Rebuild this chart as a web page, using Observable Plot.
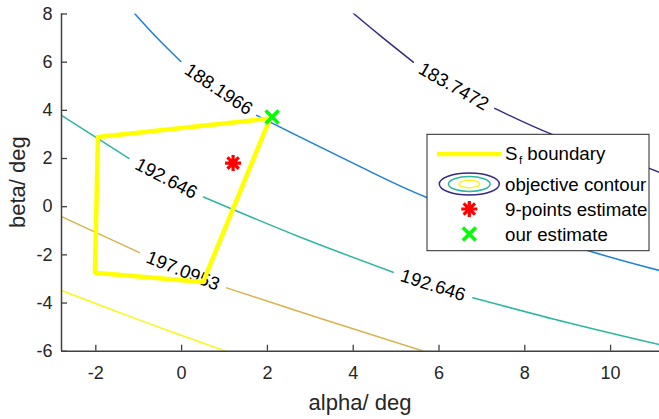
<!DOCTYPE html>
<html><head><meta charset="utf-8">
<script src="https://cdn.jsdelivr.net/npm/d3@7"></script>
<script src="https://cdn.jsdelivr.net/npm/@observablehq/plot@0.6"></script>
<style>body{margin:0;background:#fff}</style>
</head><body><div id="chart"></div>
<script>
// ---- data ----
const xDomain = [-2.8, 11.14];
const yDomain = [-6, 8];
const xTicks = [-2, 0, 2, 4, 6, 8, 10];
const yTicks = [-6, -4, -2, 0, 2, 4, 6, 8];
const xLabel = "alpha/ deg";
const yLabel = "beta/ deg";

// contour lines: [segment, alpha, beta]
const contour183 = [
  [0, 4.00, 8.03], [0, 4.70, 7.00], [0, 5.40, 6.00],
  [1, 7.30, 4.08], [1, 8.65, 2.99], [1, 10.93, 1.57], [1, 11.14, 1.42]
];
const contour188 = [
  [0, -1.09, 8.01], [0, -0.57, 7.00], [0, -0.02, 6.03],
  [1, 1.75, 3.79], [1, 3.71, 2.06], [1, 5.73, 0.37], [1, 9.46, -1.82], [1, 11.14, -2.65]
];
const contour192 = [
  [0, -2.80, 3.79], [0, -1.23, 2.01],
  [1, 0.51, 0.40], [1, 2.77, -1.27], [1, 4.93, -2.72],
  [2, 6.79, -3.78], [2, 8.99, -4.81], [2, 11.14, -5.73]
];
const contour197 = [
  [0, -2.80, -0.41], [0, -0.98, -1.91],
  [1, 1.05, -3.37], [1, 3.24, -4.64], [1, 5.64, -6.00]
];
const contourLow = [
  [0, -2.80, -3.48], [0, -0.96, -4.72], [0, 1.03, -6.00]
];
const contourColors = ["#352a87", "#1a80db", "#2db7a0", "#d8b24c", "#f7f71a"];

const contourLabelText = ["183.7472", "188.1966", "192.646", "192.646", "197.0953"];
const contourLabelX = [6.34, 0.86, -0.36, 5.86, 0.03];
const contourLabelY = [4.99, 4.87, 1.17, -3.27, -2.67];
const contourLabelAngle = [29.7, 34, 27.7, 17.8, 21.9];

const boundaryAlpha = [-1.95, 2.06, 0.50, -2.02, -1.95];
const boundaryBeta = [2.89, 3.66, -3.13, -2.74, 2.89];

const ninePoints = [{alpha: 1.20, beta: 1.81}];
const ourEstimate = [{alpha: 2.11, beta: 3.72}];

const legendLabels = ["boundary", "objective contour", "9-points estimate", "our estimate"];

// ---- build ----
const toRows = (arr) => arr.map(([seg, a, b]) => ({seg, alpha: a, beta: b}));
const contours = [contour183, contour188, contour192, contour197, contourLow].map(toRows);
const labels = contourLabelText.map((t, i) => ({text: t, alpha: contourLabelX[i], beta: contourLabelY[i], angle: contourLabelAngle[i]}));
const boundary = boundaryAlpha.map((a, i) => ({alpha: a, beta: boundaryBeta[i]}));

const asterisk = {draw(ctx, size) {
  const r = Math.sqrt(size / Math.PI), d = r * Math.SQRT1_2;
  ctx.moveTo(-r, 0); ctx.lineTo(r, 0);
  ctx.moveTo(0, -r); ctx.lineTo(0, r);
  ctx.moveTo(-d, -d); ctx.lineTo(d, d);
  ctx.moveTo(d, -d); ctx.lineTo(-d, d);
}};
const times = {draw(ctx, size) {
  const r = Math.sqrt(size / Math.PI);
  ctx.moveTo(-r, -r); ctx.lineTo(r, r);
  ctx.moveTo(r, -r); ctx.lineTo(-r, r);
}};

const FONT = "'Liberation Sans', Arial, Helvetica, sans-serif";
const W = 659, H = 419, mL = 61, mR = 0, mT = 13.5, mB = 68.3;
const fmt = (d) => String(d);

const plot = Plot.plot({
  width: W, height: H,
  marginLeft: mL, marginRight: mR, marginTop: mT, marginBottom: mB,
  x: {domain: xDomain},
  y: {domain: yDomain},
  style: {fontFamily: FONT, fontSize: "18px", color: "#262626", background: "white", overflow: "visible"},
  marks: [
    ...contours.map((rows, i) => Plot.line(rows, {x: "alpha", y: "beta", z: "seg", stroke: contourColors[i], strokeWidth: 1.5, curve: "catmull-rom", clip: true})),
    Plot.text(labels, {x: "alpha", y: "beta", text: "text", rotate: "angle", fontSize: 18.5, fill: "#000", fontFamily: FONT}),
    Plot.line(boundary, {x: "alpha", y: "beta", stroke: "#ffff00", strokeWidth: 4.5, strokeLinejoin: "miter"}),
    Plot.dot(ninePoints, {x: "alpha", y: "beta", symbol: asterisk, r: 8, stroke: "#ff0000", strokeWidth: 3.2}),
    Plot.dot(ourEstimate, {x: "alpha", y: "beta", symbol: times, r: 6.5, stroke: "#00ff00", strokeWidth: 3.5}),
    Plot.ruleX([xDomain[0]], {stroke: "#404040", strokeWidth: 1.5}),
    Plot.ruleY([yDomain[0]], {stroke: "#404040", strokeWidth: 1.5}),
    Plot.axisX({ticks: xTicks, tickFormat: fmt, tickSize: -6, tickPadding: 21.5, label: null, stroke: "#404040", strokeWidth: 1.3, fontSize: 18}),
    Plot.axisY({ticks: yTicks, tickFormat: fmt, tickSize: -6, tickPadding: 15, label: null, stroke: "#404040", strokeWidth: 1.3, fontSize: 18})
  ]
});
document.getElementById("chart").appendChild(plot);

const svg = d3.select(plot);
// axis labels
svg.append("text").attr("x", (mL + W - mR) / 2).attr("y", 410).attr("text-anchor", "middle")
  .attr("font-size", 22).attr("font-family", FONT).attr("fill", "#262626").text(xLabel);
svg.append("text").attr("transform", `translate(24.5,${(mT + H - mB) / 2}) rotate(-90)`).attr("text-anchor", "middle")
  .attr("font-size", 22).attr("font-family", FONT).attr("fill", "#262626").text(yLabel);

// legend
const lg = svg.append("g").attr("font-family", FONT).attr("font-size", 18.7).attr("fill", "#000").attr("text-anchor", "start");
lg.append("rect").attr("x", 427).attr("y", 134.3).attr("width", 222).attr("height", 116.4)
  .attr("fill", "white").attr("stroke", "#262626").attr("stroke-width", 1);
const iconX = 469.3, textX = 505;
const rowY = [154, 184, 209, 234], baseY = [159.5, 190.5, 215.8, 241.2];
lg.append("line").attr("x1", 437).attr("x2", 501).attr("y1", rowY[0]).attr("y2", rowY[0])
  .attr("stroke", "#ffff00").attr("stroke-width", 4.5);
const t0 = lg.append("text").attr("x", textX).attr("y", baseY[0]);
t0.append("tspan").text("S");
t0.append("tspan").attr("font-size", 11.5).attr("dy", 4).attr("dx", 1.5).text("f");
t0.append("tspan").attr("dy", -4).attr("dx", 0).text(" " + legendLabels[0]);
[[30, 11, contourColors[0]], [20.8, 7.5, contourColors[2]], [10.3, 3.7, contourColors[4]]].forEach(([rx, ry, c]) =>
  lg.append("ellipse").attr("cx", iconX).attr("cy", rowY[1]).attr("rx", rx).attr("ry", ry)
    .attr("fill", "none").attr("stroke", c).attr("stroke-width", 1.5));
lg.append("text").attr("x", textX).attr("y", baseY[1]).text(legendLabels[1]);
lg.append("path").attr("transform", `translate(${iconX},${rowY[2]})`).attr("d", d3.symbol(asterisk, Math.PI * 64)())
  .attr("fill", "none").attr("stroke", "#ff0000").attr("stroke-width", 3.2);
lg.append("text").attr("x", textX).attr("y", baseY[2]).text(legendLabels[2]);
lg.append("path").attr("transform", `translate(${iconX},${rowY[3]})`).attr("d", d3.symbol(times, Math.PI * 6.5 * 6.5)())
  .attr("fill", "none").attr("stroke", "#00ff00").attr("stroke-width", 3.5);
lg.append("text").attr("x", textX).attr("y", baseY[3]).text(legendLabels[3]);
</script>
</body></html>
